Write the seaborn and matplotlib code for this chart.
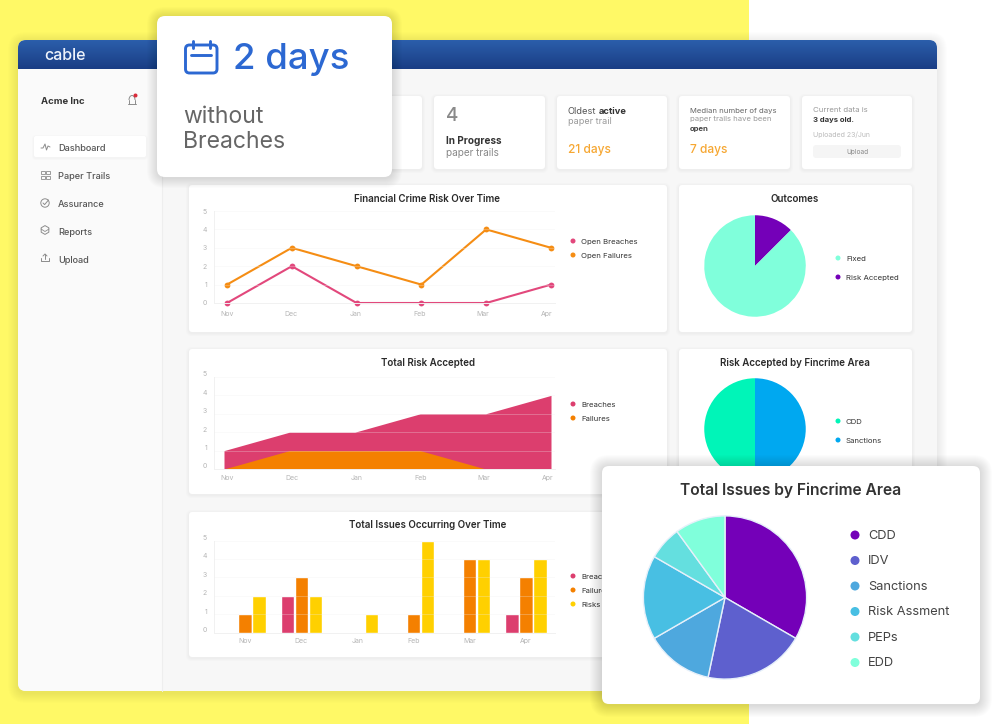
import numpy as np
import pandas as pd
import matplotlib
matplotlib.use("Agg")
import matplotlib.pyplot as plt
from matplotlib.patches import FancyBboxPatch, Rectangle, Circle, Arc, RegularPolygon
from matplotlib.transforms import ScaledTranslation
import seaborn as sns

# ---------- data ----------
months = ["Nov", "Dec", "Jan", "Feb", "Mar", "Apr"]
open_breaches = [0, 2, 0, 0, 0, 1]
open_failures = [1, 3, 2, 1, 4, 3]
accepted_breaches = [1, 2, 2, 3, 3, 4]
accepted_failures = [0, 1, 1, 1, 0, 0]
issues_breaches = [0, 2, 0, 0, 0, 1]
issues_failures = [1, 3, 0, 1, 4, 3]
issues_risks = [2, 2, 1, 5, 4, 4]
outcome_labels = ["Risk Accepted", "Fixed"]
outcome_values = [1, 7]
area_labels = ["Sanctions", "CDD"]
area_values = [1, 1]
issue_labels = ["CDD", "IDV", "Sanctions", "Risk Assment", "PEPs", "EDD"]
issue_values = [10, 6, 4, 5, 2, 3]
issue_colors = ["#7400b8", "#5e60ce", "#4ea8de", "#48bfe3", "#64dfdf", "#80ffdb"]
nav_items = ["Dashboard", "Paper Trails", "Assurance", "Reports", "Upload"]
y_ticks = [0, 1, 2, 3, 4, 5]

PINK, ORANGE, YELLOW = "#dc3e6e", "#f48000", "#ffd000"
LPINK, LORANGE = "#e2487c", "#f58d14"
FONT = "Inter"

sns.set_theme(style="white")
plt.rcParams["font.family"] = [FONT, "DejaVu Sans"]

W, H = 1000, 724
fig = plt.figure(figsize=(W / 100, H / 100), dpi=100, facecolor="white")


def layer(z):
    a = fig.add_axes([0, 0, 1, 1], zorder=z)
    a.set_xlim(0, W)
    a.set_ylim(H, 0)
    a.axis("off")
    return a


def ax_px(l, t, r, b, z=2):
    return fig.add_axes([l / W, 1 - b / H, (r - l) / W, (b - t) / H], zorder=z)


def T(a, x, y, s, px, color="#444444", weight="normal", ha="left", va="center"):
    return a.text(x, y, s, fontsize=px / 1.389, color=color, fontweight=weight,
                  ha=ha, va=va)


def box(a, l, t, r, b, rad, fc, ec="none", lw=0, z=2):
    p = FancyBboxPatch((l + rad, t + rad), r - l - 2 * rad, b - t - 2 * rad,
                       boxstyle=f"round,pad={rad}", fc=fc, ec=ec, lw=lw, zorder=z)
    a.add_patch(p)
    return p


def card(a, l, t, r, b, rad=3, spread=3, alpha=0.012, z=2):
    for i in range(spread, 0, -1):
        box(a, l - i, t - i + 1, r + i, b + i + 1, rad + i, (0, 0, 0, alpha), z=z)
    return box(a, l, t, r, b, rad, "white", z=z)


def legend(a, x, ys, labels, colors, px=7.8, gap=8, r=2.5, color="#333333", z=3):
    for y, lab, c in zip(ys, labels, colors):
        a.add_patch(Circle((x, y), r, fc=c, ec="none", zorder=z))
        t = T(a, x + gap, y + 0.6, lab, px, color=color)
        t.set_zorder(z)


def style_chart(a, label_lift=0, xpad=4):
    a.set_ylim(0, 5)
    a.set_yticks(y_ticks)
    a.set_facecolor("none")
    a.grid(axis="y", color="#eeeeee", lw=0.5, alpha=0.4)
    a.grid(axis="x", visible=False)
    a.set_xlabel("")
    a.set_ylabel("")
    for s in ["top", "right"]:
        a.spines[s].set_visible(False)
    for s in ["left", "bottom"]:
        a.spines[s].set_color("#f1f1f1")
        a.spines[s].set_linewidth(0.7)
    a.tick_params(axis="both", length=0, labelsize=5, labelcolor="#b5b5b5", pad=5)
    a.tick_params(axis="x", pad=xpad)
    a.set_axisbelow(False)
    if label_lift:
        shift = ScaledTranslation(0, label_lift / 100, fig.dpi_scale_trans)
        for lab in a.get_yticklabels():
            lab.set_transform(lab.get_transform() + shift)


back = layer(0)
front = layer(10)

# ---------- page background ----------
back.add_patch(Rectangle((0, 0), 749, H, fc="#fff966", ec="none", zorder=0))
for i in range(10, 0, -1):
    box(back, 18 - i, 40 - i + 2, 937 + i, 691 + i + 2, 8 + i, (0, 0, 0, 0.008), z=1)
box(back, 18, 40, 937, 691, 8, "#f7f7f7", z=1)
sidebar = back.add_patch(Rectangle((18, 60), 144, 631, fc="#fafafa", ec="none", zorder=1))
sidebar.set_clip_path(box(back, 18, 40, 937, 691, 8, "none", z=1))
back.plot([162, 162], [69, 691], color="#eeeeee", lw=0.8, zorder=1)
grad = np.linspace(0, 1, 60)[:, None, None]
img = (1 - grad) * np.array([0.17, 0.37, 0.67]) + grad * np.array([0.10, 0.24, 0.52])
clip = box(back, 18, 40, 937, 100, 8, "none", z=1)
im = back.imshow(img, extent=[18, 937, 69, 40], aspect="auto", zorder=1.5)
im.set_clip_path(clip)
back.set_xlim(0, W)
back.set_ylim(H, 0)
T(back, 44, 55.5, "cable", 16, color="#eef3fb", weight="medium").set_zorder(3)

# ---------- sidebar ----------
ICON = "#8c8c8c"
T(back, 41, 101.5, "Acme Inc", 9.5, color="#333333", weight="bold").set_zorder(3)
back.add_patch(Arc((132, 100), 6, 9, theta1=180, theta2=360, ec=ICON, lw=0.7, zorder=3))
back.plot([128, 136], [104, 104], color=ICON, lw=0.7, zorder=3)
back.plot([129, 129], [100, 104], color=ICON, lw=0.7, zorder=3)
back.plot([135, 135], [100, 104], color=ICON, lw=0.7, zorder=3)
back.add_patch(Circle((135.5, 95.5), 2, fc="#d92b3a", ec="none", zorder=3))
card(back, 34, 136, 146, 157, rad=2, spread=2)
nav_y = [148, 176, 204, 232, 260]
for y, name in zip(nav_y, nav_items):
    T(back, 58, y + 0.6, name, 9.2, color="#555555", weight="medium").set_zorder(3)
# nav icons
back.plot([41, 43, 45, 46.5, 48, 50], [148, 148, 144, 150, 146, 147], color=ICON, lw=0.7, zorder=3)
for dx in (41, 46):
    for dy in (170.5, 175.5):
        back.add_patch(Rectangle((dx, dy), 3.6, 3.6, fc="none", ec=ICON, lw=0.6, zorder=3))
back.add_patch(Circle((45, 203), 4.2, fc="none", ec=ICON, lw=0.7, zorder=3))
back.plot([43, 44.6, 48.5], [203, 204.6, 200], color=ICON, lw=0.7, zorder=3)
back.add_patch(RegularPolygon((45, 230), 6, radius=4.4, fc="none", ec=ICON, lw=0.7, zorder=3))
back.plot([41, 45, 49], [229, 231.5, 229], color=ICON, lw=0.6, zorder=3)
back.plot([41, 41, 49, 49], [258, 261, 261, 258], color=ICON, lw=0.7, zorder=3)
back.plot([45, 45], [259, 254], color=ICON, lw=0.7, zorder=3)
back.plot([43, 45, 47], [256, 254, 256], color=ICON, lw=0.7, zorder=3)

# ---------- top cards ----------
card(back, 300, 96, 422, 169)
card(back, 434, 96, 545, 169)
card(back, 557, 96, 667, 169)
card(back, 679, 96, 790, 169)
card(back, 802, 96, 912, 169)
for args in [
    (446, 116, "4", 19, "#8a8a8a", "medium"),
    (446, 140.5, "In Progress", 10, "#333333", "bold"),
    (446, 153.5, "paper trails", 10, "#888888", "normal"),
    (568, 111.5, "Oldest", 9.3, "#555555", "normal"),
    (599, 111.5, "active", 9.3, "#333333", "bold"),
    (568, 122, "paper trail", 9, "#999999", "normal"),
    (568, 150.5, "21 days", 12, "#f6a732", "medium"),
    (690, 110.5, "Median number of days", 7.7, "#666666", "normal"),
    (690, 119.5, "paper trails have been", 7.7, "#999999", "normal"),
    (690, 128.5, "open", 7.7, "#444444", "bold"),
    (690, 150.5, "7 days", 12, "#f6a732", "medium"),
    (813, 110.5, "Current data is", 7.8, "#999999", "normal"),
    (813, 120, "3 days old.", 7.7, "#333333", "bold"),
    (813, 134.5, "Uploaded 23/Jun", 7, "#bbbbbb", "normal"),
]:
    T(back, args[0], args[1], args[2], args[3], color=args[4], weight=args[5]).set_zorder(3)
box(back, 813, 145, 901, 158, 3, "#f5f5f5", z=3)
T(back, 857, 152, "Upload", 6.5, color="#888888", ha="center").set_zorder(4)

# ---------- chart cards ----------
for (l, r) in [(189, 667), (679, 912)]:
    card(back, l, 185, r, 332)
    card(back, l, 349, r, 494)
card(back, 189, 512, 667, 657)
for x, y, s in [(427, 199.5, "Financial Crime Risk Over Time"), (795, 199.5, "Outcomes"),
                (428, 362.5, "Total Risk Accepted"),
                (795, 362.5, "Risk Accepted by Fincrime Area"),
                (428, 525.5, "Total Issues Occurring Over Time")]:
    T(back, x, y, s, 9.8, color="#2a2a2a", weight="semibold", ha="center").set_zorder(3)

# line chart
idx = list(range(len(months)))
line_df = pd.DataFrame({
    "idx": idx * 2,
    "value": open_breaches + open_failures,
    "series": ["Open Breaches"] * 6 + ["Open Failures"] * 6,
})
a1 = ax_px(214, 211, 555, 303)
sns.lineplot(data=line_df, x="idx", y="value", hue="series",
             palette={"Open Breaches": LPINK, "Open Failures": LORANGE},
             marker="o", markersize=4.2, markeredgewidth=0, linewidth=1.5,
             errorbar=None, legend=False, clip_on=False, ax=a1)
a1.set_xlim(-13 / 64.8, 328 / 64.8)
a1.set_xticks([0, 0.98, 1.99, 2.98, 3.95, 4.94], months)
style_chart(a1, xpad=5.5)
legend(back, 573, [241, 255], ["Open Breaches", "Open Failures"], [LPINK, LORANGE])

# area chart
a2 = ax_px(214, 377, 555, 469)
a2.fill_between(idx, accepted_breaches, color=PINK, lw=0, zorder=1)
a2.fill_between(idx, accepted_failures, color=ORANGE, lw=0, zorder=1.2)
a2.set_xlim(-10 / 65.4, 331 / 65.4)
a2.set_xticks([0.05, 1.04, 2.02, 3, 3.97, 4.95], months)
style_chart(a2, label_lift=3)
legend(back, 573, [404, 418], ["Breaches", "Failures"], [PINK, ORANGE])

# bar chart
bar_df = pd.DataFrame({
    "month": months * 3,
    "value": issues_breaches + issues_failures + issues_risks,
    "series": ["Breaches"] * 6 + ["Failures"] * 6 + ["Risks"] * 6,
})
a3 = ax_px(214, 540.5, 555, 632.5)
sns.barplot(data=bar_df, x="month", y="value", hue="series", order=months,
            palette={"Breaches": PINK, "Failures": ORANGE, "Risks": YELLOW},
            width=0.75, gap=0.06, saturation=1, errorbar=None, legend=False, ax=a3)
a3.set_xlim(-31 / 56.2, 310 / 56.2)
style_chart(a3, label_lift=3)
legend(back, 573, [576, 590, 604], ["Breaches", "Failures", "Risks"], [PINK, ORANGE, YELLOW])


def pie(cx, cy, r, values, colors, z=2, edge=None):
    a = ax_px(cx - r, cy - r, cx + r, cy + r, z=z)
    wp = dict(linewidth=0) if edge is None else dict(linewidth=1, edgecolor=edge)
    a.pie(values, colors=colors, startangle=90, counterclock=False, radius=1,
          wedgeprops=wp)
    a.set_xlim(-1.005, 1.005)
    a.set_ylim(-1.005, 1.005)
    return a


pie(755, 266, 51, outcome_values, ["#7400b8", "#80ffdb"])
legend(back, 838, [258, 277], ["Fixed", "Risk Accepted"], ["#80ffdb", "#7400b8"])
pie(755, 429, 51, area_values, ["#00a8f0", "#00f5b8"])
legend(back, 838, [421, 440], ["CDD", "Sanctions"], ["#00f5b8", "#00a8f0"])

# ---------- floating "2 days" card ----------
card(front, 157, 16, 392, 177, rad=8, spread=10, alpha=0.012)
T(front, 233, 60, "2 days", 36.6, color="#2c68d2", weight="medium")
T(front, 183, 117, "without", 23, color="#666666")
T(front, 183, 142.5, "Breaches", 23, color="#666666")
box(front, 185.5, 45, 217, 73, 4, "none", ec="#2c68d2", lw=2.1, z=3)
front.plot([191, 211], [55, 55], color="#2c68d2", lw=2.1, solid_capstyle="round", zorder=3)
for x in [192.5, 210]:
    front.plot([x, x], [41, 48], color="#2c68d2", lw=2.1, solid_capstyle="round", zorder=3)

# ---------- floating pie card ----------
card(front, 602, 466, 980, 704, rad=7, spread=12, alpha=0.010)
T(front, 791, 490, "Total Issues by Fincrime Area", 15.6, color="#333333",
  weight="semibold", ha="center")
pie(725, 597.5, 82, issue_values, issue_colors, z=11, edge="#e6f0fa")
legend(front, 855, [535, 560.5, 586, 611.5, 637, 662.5], issue_labels, issue_colors,
       px=12.8, gap=13, r=4.5, color="#444444")

fig.savefig("out.png", dpi=100)
